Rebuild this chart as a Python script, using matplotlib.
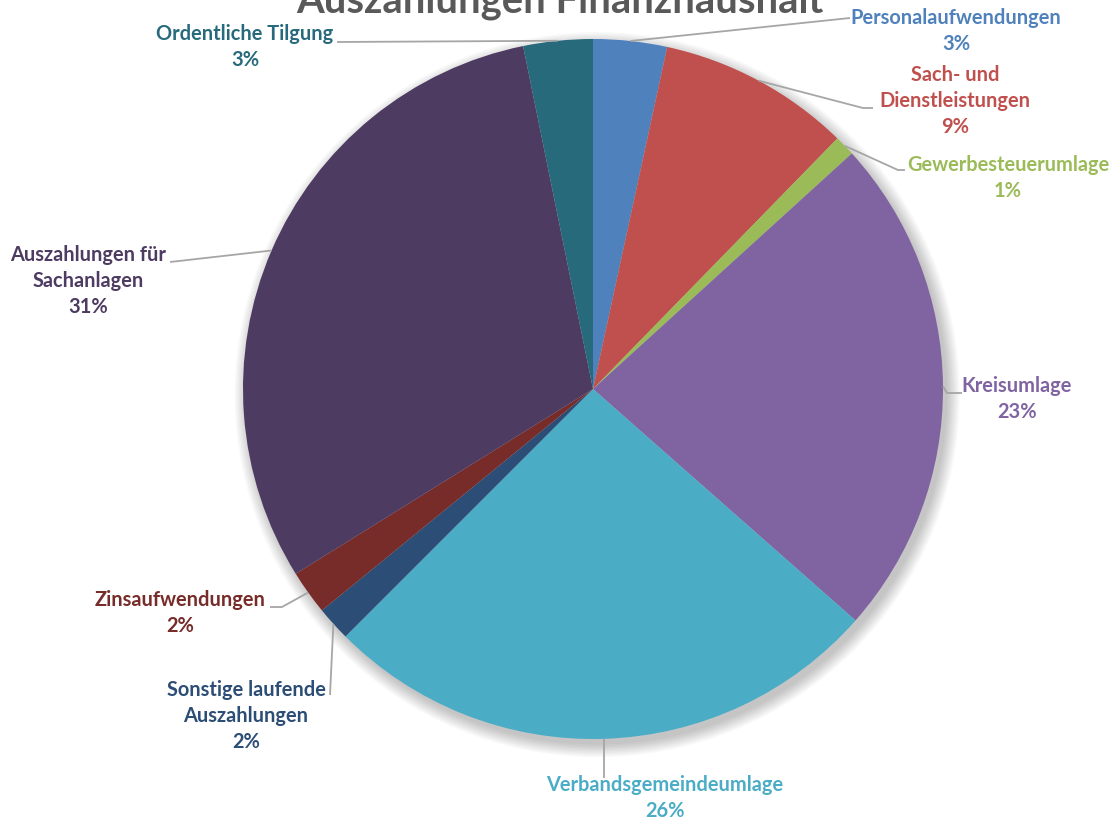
import matplotlib
matplotlib.use("Agg")
import matplotlib.pyplot as plt
import numpy as np
from matplotlib.patches import Circle

# ---- data ----
categories = ["Personalaufwendungen", "Sach- und\nDienstleistungen", "Gewerbesteuerumlage",
              "Kreisumlage", "Verbandsgemeindeumlage", "Sonstige laufende\nAuszahlungen",
              "Zinsaufwendungen", "Auszahlungen für\nSachanlagen", "Ordentliche Tilgung"]
shares = [3.4, 8.9, 0.95, 23.25, 26.0, 1.6, 2.05, 30.65, 3.2]
title = "Auszahlungen Finanzhaushalt"

# ---- style ----
colors = ["#4F81BD", "#C0504D", "#9BBB59", "#8064A2", "#4BACC6",
          "#2C4D75", "#772C2A", "#4D3B62", "#276A7C"]
FONT = ["Lato", "DejaVu Sans"]

W, H = 1120, 821
CX, CY, R = 593, 389, 350

def px(x, y):
    return ((x - CX) / R, (CY - y) / R)

# label block centres and leader vertices (pixel coordinates, layout only)
label_pos = [(956, 31), (955, 101), (1008, 178), (1017, 399), (665, 798),
             (246, 716), (180, 613), (88, 281), (245, 47)]
leader_pts = [
    [(850, 18)],
    [(863, 108), (873, 108)],
    [(898, 170), (905, 170)],
    [(947, 393), (962, 393)],
    [(604, 778)],
    [(330, 695)],
    [(282, 607), (270, 607)],
    [(170, 262)],
    [(337, 42)],
]

fig = plt.figure(figsize=(W / 100, H / 100), dpi=100)
ax = fig.add_axes([0, 0, 1, 1])

# soft shadow
for i in range(10):
    ax.add_patch(Circle((0.012, -0.016), 1.0 + 0.004 * i, color="black",
                        alpha=0.025, lw=0, zorder=0))

wedges, _ = ax.pie(shares, colors=colors, startangle=90, counterclock=False,
                   radius=1.0, wedgeprops=dict(linewidth=0))
for w in wedges:
    w.set_zorder(2)

total = sum(shares)
for w, cat, val, col, pos, pts in zip(wedges, categories, shares, colors,
                                      label_pos, leader_pts):
    mid = np.deg2rad((w.theta1 + w.theta2) / 2)
    start = (np.cos(mid), np.sin(mid))
    xs = [start[0]] + [px(*p)[0] for p in pts]
    ys = [start[1]] + [px(*p)[1] for p in pts]
    ax.plot(xs, ys, color="#A6A6A6", lw=1.3, zorder=3, solid_capstyle="butt")
    pct = f"{round(val / total * 100)}%"
    tx, ty = px(*pos)
    ax.text(tx, ty, f"{cat}\n{pct}", ha="center", va="center", color=col,
            fontsize=14.4, fontweight="bold", family=FONT, linespacing=1.37,
            zorder=4)

tx, ty = px(560, 12)
ax.text(tx, ty, title, ha="center", va="baseline", color="#595959",
        fontsize=28.8, fontweight="bold", family=FONT, zorder=4)

ax.set_xlim(-CX / R, (W - CX) / R)
ax.set_ylim((CY - H) / R, CY / R)
ax.set_aspect("auto")
ax.axis("off")

fig.savefig("out.png", dpi=100, facecolor="white")
